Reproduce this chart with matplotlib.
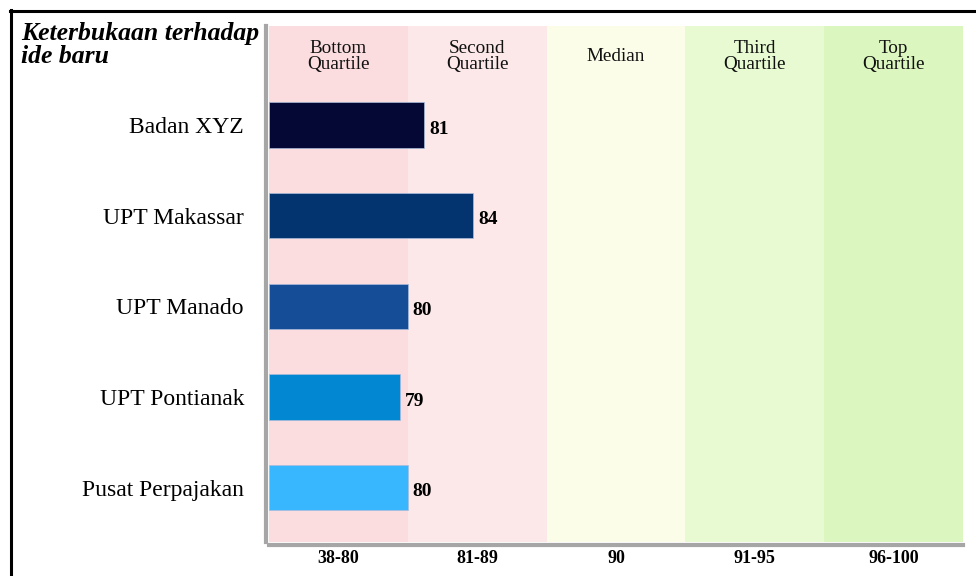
import numpy as np
import matplotlib
matplotlib.use("Agg")
import matplotlib.pyplot as plt
from matplotlib.lines import Line2D

# data
units = ["Badan XYZ", "UPT Makassar", "UPT Manado", "UPT Pontianak", "Pusat Perpajakan"]
scores = [81, 84, 80, 79, 80]
bar_colors = ["#050735", "#04346f", "#154d96", "#0288d2", "#38b6fe"]

band_names = ["Bottom\nQuartile", "Second\nQuartile", "Median", "Third\nQuartile", "Top\nQuartile"]
band_ranges = ["38-80", "81-89", "90", "91-95", "96-100"]
band_colors = ["#fcdddf", "#fde8e9", "#fbfde9", "#e8fad2", "#dbf6be"]
# score values where each band starts/ends (each band gets equal width)
band_edges = [63, 80, 88.5, 90, 95, 100]

plt.rcParams['font.family'] = ['Liberation Serif', 'DejaVu Serif']

W, H = 976, 576
fig = plt.figure(figsize=(W / 100, H / 100), dpi=100)
ax = fig.add_axes([269 / W, 1 - 542 / H, 694 / W, 516 / H])

# spines first (set_position resets the ticks)
for s in ['top', 'right']:
    ax.spines[s].set_visible(False)
for s in ['left', 'bottom']:
    ax.spines[s].set_color('#a6a6a6')
    ax.spines[s].set_linewidth(3)
    ax.spines[s].set_position(('outward', 2))
    ax.spines[s].set_capstyle('projecting')

pos = np.arange(len(band_edges))
fwd = lambda v: np.interp(v, band_edges, pos)
inv = lambda p: np.interp(p, pos, band_edges)
ax.set_xscale('function', functions=(fwd, inv))
ax.set_xlim(band_edges[0], band_edges[-1])

# background bands
for i, c in enumerate(band_colors):
    ax.axvspan(band_edges[i], band_edges[i + 1], color=c, lw=0, zorder=0)
    ax.text((i + 0.5) / 5, 0.941, band_names[i], transform=ax.transAxes,
            ha='center', va='center', fontsize=13.8, linespacing=0.9, color='#111111')

y = np.arange(len(units))[::-1]
ax.barh(y, np.array(scores) - band_edges[0], left=band_edges[0], height=0.5,
        color=bar_colors, edgecolor='#a9bcdc', linewidth=0.5, zorder=2)
for yy, v in zip(y, scores):
    ax.annotate(str(v), xy=(v, yy), xytext=(3.5, -3), textcoords='offset points',
                va='center', ha='left', fontsize=14, fontweight='bold')

ax.set_ylim(-0.60, 5.09)
ax.set_yticks(y)
ax.set_yticklabels(units, fontsize=17)
mids = inv(np.arange(5) + 0.5)
ax.set_xticks(mids)
ax.set_xticklabels(band_ranges, fontsize=13, fontweight='bold')
ax.minorticks_off()
ax.tick_params(axis='y', length=0, pad=16)
ax.tick_params(axis='x', length=0, pad=4)

fig.text(21 / W, 1 - 45 / H, "Keterbukaan terhadap\nide baru", ha='left', va='center',
         fontsize=18.5, fontweight='bold', style='italic', linespacing=1.05)

# outer frame
fig.add_artist(Line2D([11 / W, 11 / W], [0, 1 - 10 / H], color='black', lw=2.2))
fig.add_artist(Line2D([10 / W, 1], [1 - 11 / H, 1 - 11 / H], color='black', lw=2.2))

fig.savefig("out.png", dpi=100)
